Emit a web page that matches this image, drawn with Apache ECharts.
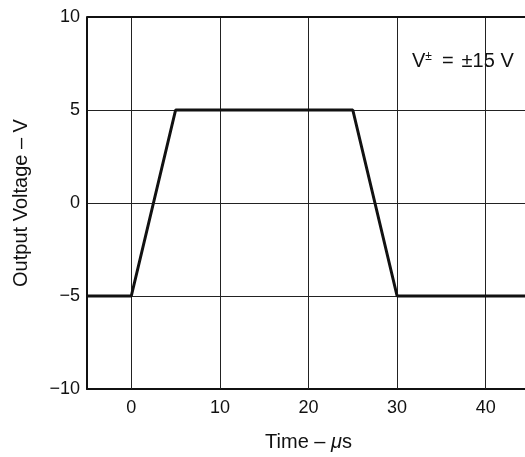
<!DOCTYPE html>
<html><head><meta charset="utf-8">
<script src="https://cdn.jsdelivr.net/npm/echarts@6/dist/echarts.min.js"></script>
<style>html,body{margin:0;padding:0;background:#fff;}#c{width:525px;height:457px;}</style>
</head><body><div id="c"></div>
<script>
const timeUs = [-5, 0, 5, 25, 30, 45];
const outputV = [-5, -5, 5, 5, -5, -5];
const xTicks = [0, 10, 20, 30, 40];
const yTicks = [-10, -5, 0, 5, 10];

const chart = echarts.init(document.getElementById('c'), null, {renderer: 'canvas'});
const font = '"Liberation Sans", Arial, sans-serif';
const fs = 18;
const nfs = 20;
const txt = {fontFamily: font, fontSize: nfs, color: '#111', fill: '#111'};
chart.setOption({
  animation: false,
  backgroundColor: '#fff',
  grid: {left: 87, width: 443, top: 17, height: 372, show: false, containLabel: false, outerBoundsMode: 'none'},
  xAxis: {
    type: 'value', min: -5, max: 45, interval: 5,
    name: '{n|Time \u2013 }{i|\u03BC}{n|s}', nameLocation: 'middle', nameGap: 43,
    nameTextStyle: {fontFamily: font, fontSize: nfs, color: '#111',
      rich: {n: txt, i: Object.assign({}, txt, {fontStyle: 'italic'})}},
    axisLine: {show: true, onZero: false, lineStyle: {color: '#111', width: 2}},
    axisTick: {show: false},
    axisLabel: {fontFamily: font, fontSize: fs, color: '#111', margin: 10,
      formatter: v => xTicks.includes(v) ? String(v) : ''},
    splitLine: {show: false}
  },
  yAxis: {
    type: 'value', min: -10, max: 10, interval: 5,
    name: 'Output Voltage \u2013 V', nameLocation: 'middle', nameGap: 56, nameRotate: 90,
    nameTextStyle: {fontFamily: font, fontSize: nfs, color: '#111'},
    axisLine: {show: true, onZero: false, lineStyle: {color: '#111', width: 2}},
    axisTick: {show: false},
    axisLabel: {fontFamily: font, fontSize: fs, color: '#111', margin: 7,
      formatter: v => yTicks.includes(v) ? String(v).replace('-', '\u2212') : ''},
    splitLine: {show: true, lineStyle: {color: '#222', width: 1}}
  },
  graphic: [{
    type: 'text', left: 412, top: 51,
    style: {
      text: '{a|V}{s|\u00B1}{e|=}{a|\u00B115 V}',
      rich: {
        a: txt,
        e: Object.assign({}, txt, {padding: [0, 8, 0, 10]}),
        s: Object.assign({}, txt, {fontSize: 12, verticalAlign: 'top', padding: [0, 0, 8, 0]})
      }
    }
  }],
  series: [{
    type: 'line',
    data: timeUs.map((t, i) => [t, outputV[i]]),
    symbol: 'none',
    lineStyle: {color: '#111', width: 3},
    z: 5,
    markLine: {
      silent: true, symbol: 'none', label: {show: false},
      lineStyle: {color: '#222', width: 1, type: 'solid'},
      data: xTicks.map(v => ({xAxis: v})).concat([
        {yAxis: 10, lineStyle: {color: '#111', width: 2, type: 'solid'}}
      ])
    }
  }]
});
</script></body></html>
